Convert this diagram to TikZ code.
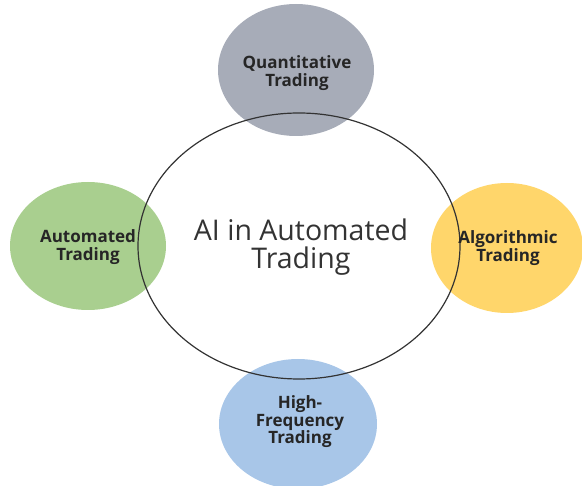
\documentclass[tikz,border=0pt]{standalone}
\usepackage{fontspec}
\setmainfont{Open Sans}
\begin{document}
\definecolor{quantgray}{HTML}{A7ACB8}
\definecolor{autogreen}{HTML}{A9CF8F}
\definecolor{algoyellow}{HTML}{FFD66B}
\definecolor{hfblue}{HTML}{A8C6E8}
\begin{tikzpicture}[x=1pt,y=-1pt,
  lbl/.style={font=\fontsize{17}{17.5}\selectfont\bfseries, text=black!85, align=center, inner sep=0pt},
  ring/.style={draw=black!80, line width=1.2pt}]
\useasboundingbox (0,0) rectangle (582,486);
% coloured topic bubbles
\fill[quantgray] (296,70) ellipse [x radius=78, y radius=66];
\fill[autogreen] (88,246) ellipse [x radius=78, y radius=64];
\fill[algoyellow] (507,248) ellipse [x radius=76, y radius=65];
\fill[hfblue] (298,424) ellipse [x radius=79, y radius=65];
% central ring drawn over the bubbles
\draw[ring] (299,246) ellipse [x radius=161, y radius=133];
% labels
\node[lbl] (quant) at (297,73) {Quantitative\\Trading};
\node[lbl] (auto) at (88,247) {Automated\\Trading};
\node[lbl] (algo) at (508,248) {Algorithmic\\Trading};
\node[lbl] (hft) at (300,422) {High-\\Frequency\\Trading};
\node[font=\fontsize{28.5}{28}\selectfont, text=black!80, align=center, inner sep=0pt] (core) at (301,247) {AI in Automated\\Trading};
\end{tikzpicture}
\end{document}
